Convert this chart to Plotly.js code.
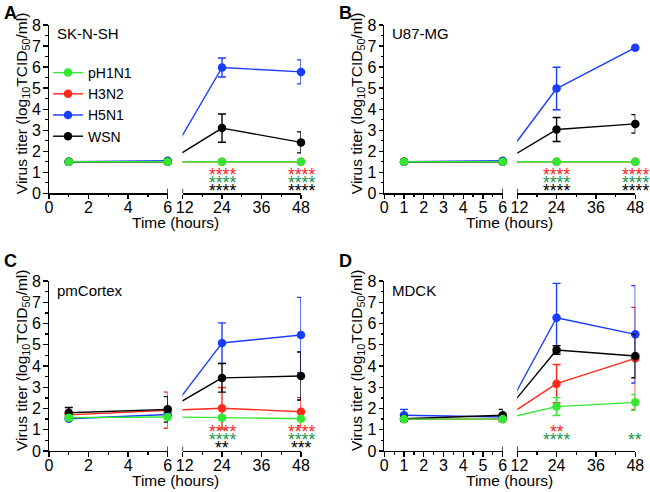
<!DOCTYPE html>
<html>
<head>
<meta charset="utf-8">
<script src="https://cdn.plot.ly/plotly-3.0.1.min.js"></script>
<style>html,body{margin:0;padding:0;background:#fff}#chart{width:650px;height:492px}</style>
</head>
<body>
<div id="chart"></div>
<script>
// ---------------- DATA ----------------
const times = [1, 6, 24, 48];                 // hours post infection
const seriesNames = ['pH1N1', 'H3N2', 'H5N1', 'WSN'];
const cellLines = ['SK-N-SH', 'U87-MG', 'pmCortex', 'MDCK'];
const panelLetters = ['A', 'B', 'C', 'D'];
const yTitle = 'Virus titer (log<sub>10</sub>TCID<sub>50</sub>/ml)';
const xTitle = 'Time (hours)';
const rightTicks = [12, 24, 36, 48];
const rightTickText = ['\u00a012', '24', '36', '48'];

// Panel A: SK-N-SH  (mean, SD of log10 TCID50/ml)
const A_pH1N1 = [1.5, 1.5, 1.5, 1.5];   const A_pH1N1_sd = [0, 0, 0, 0];
const A_H3N2  = [1.5, 1.5, 1.5, 1.5];   const A_H3N2_sd  = [0, 0, 0, 0];
const A_H5N1  = [1.5, 1.55, 5.98, 5.77]; const A_H5N1_sd = [0, 0, 0.45, 0.57];
const A_WSN   = [1.5, 1.5, 3.1, 2.42];  const A_WSN_sd   = [0, 0, 0.67, 0.5];

// Panel B: U87-MG
const B_pH1N1 = [1.5, 1.5, 1.5, 1.5];   const B_pH1N1_sd = [0, 0, 0, 0];
const B_H3N2  = [1.5, 1.5, 1.5, 1.5];   const B_H3N2_sd  = [0, 0, 0, 0];
const B_H5N1  = [1.5, 1.55, 4.98, 6.92]; const B_H5N1_sd = [0, 0, 1.01, 0.05];
const B_WSN   = [1.5, 1.5, 3.03, 3.3];  const B_WSN_sd   = [0, 0, 0.57, 0.44];

// Panel C: pmCortex
const C_pH1N1 = [1.57, 1.6, 1.57, 1.52]; const C_pH1N1_sd = [0.1, 0.1, 0.08, 0.05];
const C_H3N2  = [1.7, 1.92, 2.01, 1.85]; const C_H3N2_sd  = [0.12, 0.85, 0.98, 0.66];
const C_H5N1  = [1.52, 1.72, 5.08, 5.46]; const C_H5N1_sd = [0.05, 0.1, 0.95, 1.77];
const C_WSN   = [1.8, 1.96, 3.44, 3.53]; const C_WSN_sd   = [0.25, 0.6, 0.67, 1.13];

// Panel D: MDCK
const D_pH1N1 = [1.5, 1.5, 2.09, 2.29];  const D_pH1N1_sd = [0.03, 0.08, 0.42, 0.37];
const D_H3N2  = [1.5, 1.5, 3.17, 4.36];  const D_H3N2_sd  = [0.05, 0.1, 0.9, 2.4];
const D_H5N1  = [1.68, 1.6, 6.27, 5.49]; const D_H5N1_sd  = [0.28, 0.05, 1.62, 2.29];
const D_WSN   = [1.52, 1.68, 4.75, 4.47]; const D_WSN_sd  = [0.1, 0.28, 0.2, 1.02];

// Significance labels, rows: vs H3N2 (red), vs pH1N1 (green), vs WSN (black)
const sigTimes = [24, 48];
const A_stars24 = ['****', '****', '****']; const A_stars48 = ['****', '****', '****'];
const B_stars24 = ['****', '****', '****']; const B_stars48 = ['****', '****', '****'];
const C_stars24 = ['****', '****', '**'];   const C_stars48 = ['****', '****', '***'];
const D_stars24 = ['**', '****', ''];       const D_stars48 = ['', '**', ''];

// ---------------- STYLE / LAYOUT CONSTANTS ----------------
const FONT = 'Liberation Sans, Arial, Helvetica, sans-serif';
const W = 650, H = 492;
const colors = { pH1N1: 'rgb(51,232,51)', H3N2: 'rgb(255,40,25)', H5N1: 'rgb(25,60,255)', WSN: 'rgb(0,0,0)' };
const starColors = ['rgb(255,30,30)', 'rgb(25,150,75)', 'rgb(0,0,0)'];
const starRowY = [0.97, 0.6, 0.22];
const drawOrder = ['H3N2', 'H5N1', 'WSN', 'pH1N1'];
// pixel geometry of each column: [left0, left6, right12, right48]
const colGeom = [[49, 167.7, 182.5, 301], [384.3, 502.7, 517.2, 635.3]];
const rowGeom = [[25, 193.3], [281, 451]];   // [top(8), bottom(0)]

const panelData = [
  { pH1N1: [A_pH1N1, A_pH1N1_sd], H3N2: [A_H3N2, A_H3N2_sd], H5N1: [A_H5N1, A_H5N1_sd], WSN: [A_WSN, A_WSN_sd] },
  { pH1N1: [B_pH1N1, B_pH1N1_sd], H3N2: [B_H3N2, B_H3N2_sd], H5N1: [B_H5N1, B_H5N1_sd], WSN: [B_WSN, B_WSN_sd] },
  { pH1N1: [C_pH1N1, C_pH1N1_sd], H3N2: [C_H3N2, C_H3N2_sd], H5N1: [C_H5N1, C_H5N1_sd], WSN: [C_WSN, C_WSN_sd] },
  { pH1N1: [D_pH1N1, D_pH1N1_sd], H3N2: [D_H3N2, D_H3N2_sd], H5N1: [D_H5N1, D_H5N1_sd], WSN: [D_WSN, D_WSN_sd] }
];
const panelStars = [[A_stars24, A_stars48], [B_stars24, B_stars48], [C_stars24, C_stars48], [D_stars24, D_stars48]];

const traces = [];
const layout = {
  width: W, height: H,
  margin: { l: 0, r: 0, t: 0, b: 0 },
  paper_bgcolor: '#fff', plot_bgcolor: 'rgba(0,0,0,0)',
  font: { family: FONT, color: '#000' },
  showlegend: true,
  legend: { x: 48 / W, y: 1 - 104.5 / H, xanchor: 'left', yanchor: 'middle',
            font: { family: FONT, size: 14, color: '#000' }, bgcolor: 'rgba(0,0,0,0)',
            tracegroupgap: 0 },
  annotations: [], shapes: []
};

const sdOrNull = a => a.map(v => (v > 0 ? v : null));

for (let p = 0; p < 4; p++) {
  const col = p % 2, row = Math.floor(p / 2);
  const [L0, L1, R0, R1] = colGeom[col];
  const [T, B] = rowGeom[row];
  const xl = 'x' + (2 * p + 1), xr = 'x' + (2 * p + 2), yy = 'y' + (p + 1);
  const axStyle = {
    showline: true, linecolor: '#000', linewidth: 1.3, showgrid: false, zeroline: false,
    ticks: 'outside', ticklen: 4.5, tickwidth: 1.3, tickcolor: '#000',
    tickfont: { family: FONT, size: 16, color: '#000' }, fixedrange: true
  };
  const xStyle = Object.assign({}, axStyle, { ticklabelstandoff: -5 });
  layout['xaxis' + (2 * p + 1)] = Object.assign({}, xStyle, {
    domain: [L0 / W, L1 / W], range: [0, 6], anchor: yy,
    tick0: 0, dtick: col === 0 ? 2 : 1,
    minor: { dtick: col === 0 ? 1 : 0.5, ticks: 'outside', ticklen: 2.5, tickwidth: 1.3, tickcolor: '#000', showgrid: false }
  });
  layout['xaxis' + (2 * p + 2)] = Object.assign({}, xStyle, {
    domain: [R0 / W, R1 / W], range: [12, 48], anchor: yy,
    tickmode: 'array', tickvals: rightTicks, ticktext: rightTickText,
    minor: { tick0: 0, dtick: 6, ticks: 'outside', ticklen: 2.5, tickwidth: 1.3, tickcolor: '#000', showgrid: false }
  });
  layout['yaxis' + (p + 1)] = Object.assign({}, axStyle, {
    domain: [1 - B / H, 1 - T / H], range: [0, 8], anchor: xl,
    tick0: 0, dtick: 1, ticklabelstandoff: -1,
    minor: { dtick: 0.5, ticks: 'outside', ticklen: 2.5, tickwidth: 1.3, tickcolor: '#000', showgrid: false }
  });

  // position of the 6 h point of the left axis expressed in right-axis units (for the line across the break)
  const px6 = L0 + (6 - 0) / 6 * (L1 - L0);
  const x6onRight = 12 + (px6 - R0) / (R1 - R0) * 36;

  drawOrder.forEach(name => {
    const [vals, sds] = panelData[p][name];
    const c = colors[name];
    const leftIdx = times.map((t, i) => i).filter(i => times[i] <= 6);
    const rightIdx = times.map((t, i) => i).filter(i => times[i] > 6);
    const common = {
      type: 'scatter', mode: 'lines+markers', cliponaxis: false, hoverinfo: 'x+y+name',
      line: { color: c, width: 1.4 }, marker: { color: c, size: 8.5 }, name: name,
      legendgroup: name, legendrank: seriesNames.indexOf(name) + 1
    };
    const err = idx => ({ type: 'data', array: sdOrNull(idx.map(i => sds[i])), visible: true, color: c, thickness: 1.4, width: 4 });
    traces.push(Object.assign({}, common, {
      x: leftIdx.map(i => times[i]), y: leftIdx.map(i => vals[i]), xaxis: xl, yaxis: yy,
      error_y: err(leftIdx), showlegend: p === 0
    }));
    // connector across the axis break (6 h -> 24 h), clipped at the start of the right axis
    const i6 = times.indexOf(6), i24 = times.indexOf(24);
    traces.push({
      type: 'scatter', mode: 'lines', cliponaxis: true, hoverinfo: 'skip', showlegend: false,
      x: [x6onRight, times[i24]], y: [vals[i6], vals[i24]], xaxis: xr, yaxis: yy,
      line: { color: c, width: 1.4 }
    });
    traces.push(Object.assign({}, common, {
      x: rightIdx.map(i => times[i]), y: rightIdx.map(i => vals[i]), xaxis: xr, yaxis: yy,
      error_y: err(rightIdx), showlegend: false
    }));
  });

  // axis break bars
  [[xl, 6], [xr, 12]].forEach(([ax, xv]) => {
    layout.shapes.push({ type: 'line', xref: ax, yref: yy, x0: xv, x1: xv, ysizemode: 'pixel', yanchor: 0,
      y0: -4.5, y1: 4.5, line: { color: '#000', width: 1.3 } });
  });

  // significance stars
  sigTimes.forEach((t, k) => {
    panelStars[p][k].forEach((txt, r) => {
      if (!txt) return;
      layout.annotations.push({ xref: xr, yref: yy, x: t, y: starRowY[r], text: txt, showarrow: false,
        xanchor: 'center', yanchor: 'middle', yshift: -2,
        font: { family: FONT, size: 17.5, color: starColors[r] } });
    });
  });

  // y axis title (rotated)
  layout.annotations.push({ xref: 'paper', yref: 'paper', x: (col === 0 ? 22 : 357) / W, y: 1 - ((T + B) / 2 - 5) / H,
    xanchor: 'center', yanchor: 'middle', textangle: -90, text: yTitle, showarrow: false,
    font: { family: FONT, size: 15.5, color: '#000' } });
  // panel letter
  layout.annotations.push({ xref: 'paper', yref: 'paper', x: (col === 0 ? 2 : 337) / W, y: 1 - (row === 0 ? 1 : 249) / H,
    xanchor: 'left', yanchor: 'top', text: '<b>' + panelLetters[p] + '</b>', showarrow: false,
    font: { family: FONT, size: 18, color: '#000' } });
  // cell line label
  layout.annotations.push({ xref: 'paper', yref: 'paper', x: (L0 + 6) / W, y: 1 - (T + 9) / H,
    xanchor: 'left', yanchor: 'middle', text: cellLines[p], showarrow: false,
    font: { family: FONT, size: 15, color: '#000' } });
  // x axis title spanning both segments
  layout.annotations.push({ xref: 'paper', yref: 'paper', x: ((L0 + R1) / 2) / W, y: 1 - (B + 29) / H,
    xanchor: 'center', yanchor: 'middle', text: xTitle, showarrow: false,
    font: { family: FONT, size: 15.5, color: '#000' } });
}

Plotly.newPlot('chart', traces, layout, { displayModeBar: false, staticPlot: true });
</script>
</body>
</html>
